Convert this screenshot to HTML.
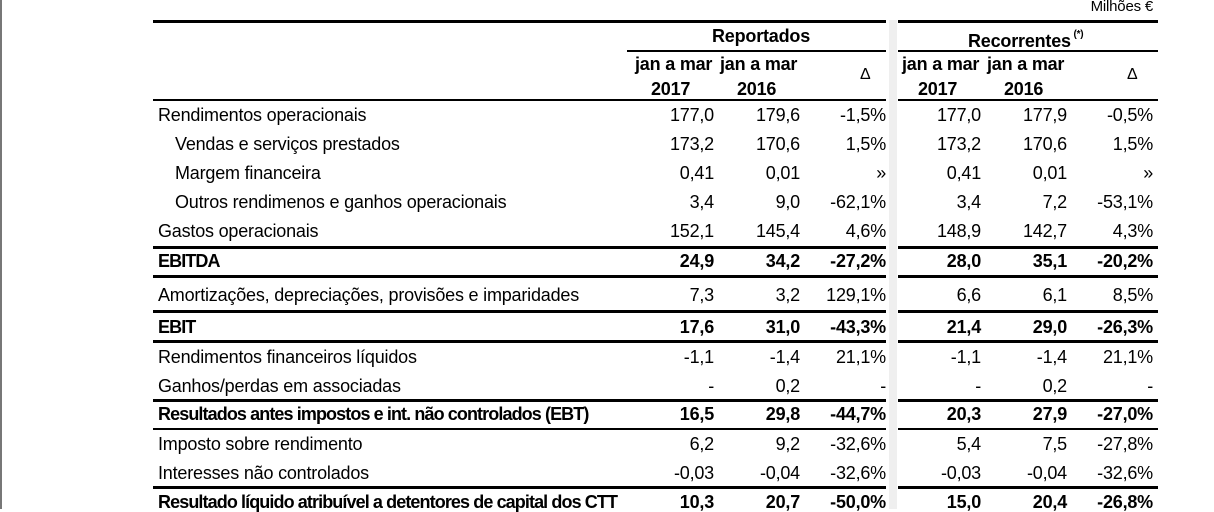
<!DOCTYPE html>
<html><head><meta charset="utf-8"><style>
body{margin:0;width:1214px;height:509px;overflow:hidden;background:#fff;position:relative;font-family:"Liberation Sans",sans-serif;color:#000;font-size:18px;letter-spacing:-0.2px}
.t{position:absolute;line-height:20px;white-space:nowrap}
.r{text-align:right}
.b{font-weight:bold}
.bl{letter-spacing:-0.9px}
.h{position:absolute;background:#000}
</style></head><body>
<div style="position:absolute;left:0;top:0;width:2px;height:509px;background:#777"></div>
<div style="position:absolute;left:889px;top:20px;width:8px;height:489px;background:#efefef"></div>
<div class="t r" style="left:1040px;width:113px;top:-3px;font-size:15px">Milhões €</div>
<div class="h" style="left:153px;top:20px;width:733px;height:3px"></div>
<div class="h" style="left:898px;top:20px;width:260px;height:3px"></div>
<div class="t b" style="left:712px;top:26px">Reportados</div>
<div class="t b" style="left:968px;top:28px">Recorrentes<sup style="font-size:10px;position:relative;top:-3px"> (*)</sup></div>
<div class="h" style="left:627px;top:50px;width:259px;height:2px"></div>
<div class="h" style="left:898px;top:50px;width:260px;height:2px"></div>
<div class="t b" style="left:635px;top:54px">jan a mar</div>
<div class="t b" style="left:720px;top:54px">jan a mar</div>
<div class="t b" style="left:902px;top:54px">jan a mar</div>
<div class="t b" style="left:987px;top:54px">jan a mar</div>
<div class="t b" style="left:651px;top:79px">2017</div>
<div class="t b" style="left:737px;top:79px">2016</div>
<div class="t b" style="left:918px;top:79px">2017</div>
<div class="t b" style="left:1004px;top:79px">2016</div>
<div class="t" style="left:860px;top:65px;font-size:16px">Δ</div>
<div class="t" style="left:1127px;top:65px;font-size:16px">Δ</div>
<div class="h" style="left:153px;top:99px;width:733px;height:2px"></div>
<div class="h" style="left:898px;top:99px;width:260px;height:2px"></div>
<div id="rows"></div>
<script>
var R=[
[114,"Rendimentos operacionais",0,0,["177,0","179,6","-1,5%","177,0","177,9","-0,5%"]],
[143,"Vendas e serviços prestados",1,0,["173,2","170,6","1,5%","173,2","170,6","1,5%"]],
[172,"Margem financeira",1,0,["0,41","0,01","»","0,41","0,01","»"]],
[201,"Outros rendimenos e ganhos operacionais",1,0,["3,4","9,0","-62,1%","3,4","7,2","-53,1%"]],
[230,"Gastos operacionais",0,0,["152,1","145,4","4,6%","148,9","142,7","4,3%"]],
[260,"EBITDA",0,1,["24,9","34,2","-27,2%","28,0","35,1","-20,2%"]],
[294,"Amortizações, depreciações, provisões e imparidades",0,0,["7,3","3,2","129,1%","6,6","6,1","8,5%"]],
[326,"EBIT",0,1,["17,6","31,0","-43,3%","21,4","29,0","-26,3%"]],
[356,"Rendimentos financeiros líquidos",0,0,["-1,1","-1,4","21,1%","-1,1","-1,4","21,1%"]],
[385,"Ganhos/perdas em associadas",0,0,["-","0,2","-","-","0,2","-"]],
[413,"Resultados antes impostos e int. não controlados (EBT)",0,1,["16,5","29,8","-44,7%","20,3","27,9","-27,0%"]],
[443,"Imposto sobre rendimento",0,0,["6,2","9,2","-32,6%","5,4","7,5","-27,8%"]],
[472,"Interesses não controlados",0,0,["-0,03","-0,04","-32,6%","-0,03","-0,04","-32,6%"]],
[501,"Resultado líquido atribuível a detentores de capital dos CTT",0,1,["10,3","20,7","-50,0%","15,0","20,4","-26,8%"]]];
var X=[714,800,886,981,1067,1153],h="";
R.forEach(function(r){var y=r[0]-9,c=r[3]?" b":"";
h+='<div class="t'+c+(r[3]?' bl':'')+'" style="left:'+(r[2]?175:158)+'px;top:'+y+'px">'+r[1]+'</div>';
r[4].forEach(function(v,i){h+='<div class="t r'+c+'" style="left:'+(X[i]-100)+'px;width:100px;top:'+y+'px">'+v+'</div>';});});
[[246,3],[275,3],[310,3],[340,3],[399,3],[428,2],[486,3]].forEach(function(l){
h+='<div class="h" style="left:153px;top:'+l[0]+'px;width:733px;height:'+l[1]+'px"></div>';
h+='<div class="h" style="left:898px;top:'+l[0]+'px;width:260px;height:'+l[1]+'px"></div>';});
document.getElementById("rows").innerHTML=h;
</script>
</body></html>
